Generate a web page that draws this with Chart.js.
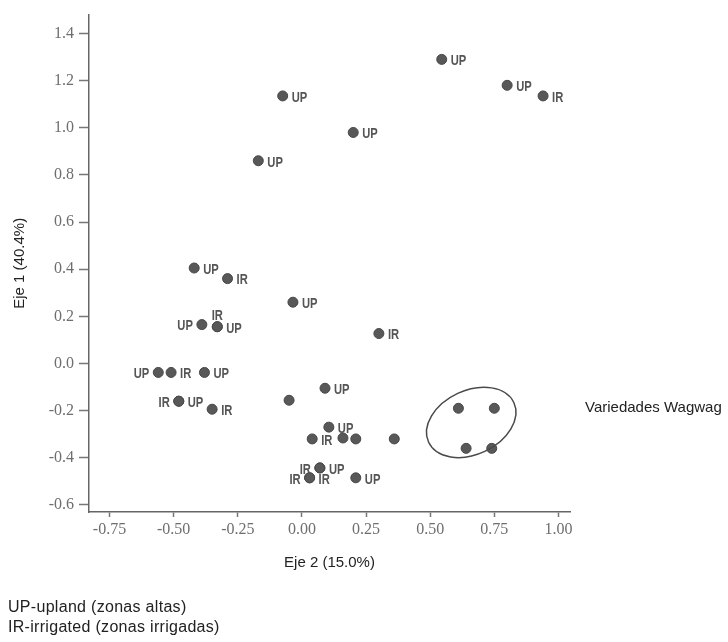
<!DOCTYPE html>
<html>
<head>
<meta charset="utf-8">
<script src="https://cdn.jsdelivr.net/npm/chart.js@4.4.0/dist/chart.umd.min.js"></script>
<style>
html, body { margin: 0; padding: 0; background: #fff; }
#wrap { width: 728px; height: 642px; }
</style>
</head>
<body>
<div id="wrap"><canvas id="pca-chart" width="728" height="642"></canvas></div>
<script>
// variedades: Eje 2 (x) y Eje 1 (y)
const eje2 = [0.545, 0.80, 0.94, -0.075, 0.20, -0.17,
              -0.42, -0.29, -0.035, -0.39, -0.33, -0.33, 0.30,
              -0.56, -0.51, -0.38, -0.48, -0.48, -0.35, -0.05, 0.09,
              0.105, 0.04, 0.16, 0.21, 0.36,
              0.07, 0.07, 0.03, 0.03, 0.21];
const eje1 = [1.29, 1.18, 1.135, 1.135, 0.98, 0.86,
              0.405, 0.36, 0.26, 0.165, 0.156, 0.156, 0.127,
              -0.038, -0.038, -0.038, -0.16, -0.16, -0.194, -0.156, -0.105,
              -0.27, -0.32, -0.316, -0.32, -0.32,
              -0.443, -0.443, -0.485, -0.485, -0.485];
const etiquetas = ['UP', 'UP', 'IR', 'UP', 'UP', 'UP',
                   'UP', 'IR', 'UP', 'UP', 'IR', 'UP', 'IR',
                   'UP', 'IR', 'UP', 'IR', 'UP', 'IR', '', 'UP',
                   'UP', 'IR', '', '', '',
                   'IR', 'UP', 'IR', 'IR', 'UP'];

// variedades Wagwag (dentro de la elipse)
const wagwagEje2 = [0.61, 0.75, 0.64, 0.74];
const wagwagEje1 = [-0.19, -0.19, -0.36, -0.36];

const xTickLabels = ['-0.75', '-0.50', '-0.25', '0.00', '0.25', '0.50', '0.75', '1.00'];
const yTickLabels = ['-0.6', '-0.4', '-0.2', '0.0', '0.2', '0.4', '0.6', '0.8', '1.0', '1.2', '1.4'];

// lado de la etiqueta: r = derecha, l = izquierda, t = arriba
const ladoEtiqueta = ['r', 'r', 'r', 'r', 'r', 'r',
                      'r', 'r', 'r', 'l', 't', 'r', 'r',
                      'l', 'r', 'r', 'l', 'r', 'r', 'r', 'r',
                      'r', 'r', 'r', 'r', 'r',
                      'l', 'r', 'l', 'r', 'r'];

const gris = '#6e6e6e';
const puntoColor = '#585858';
const labelFont = "bold 14px 'Liberation Sans', Arial, sans-serif";
const estrecho = 0.8; // etiquetas condensadas

const etiquetasPlugin = {
    id: 'etiquetas',
    afterDatasetsDraw(chart) {
        const ctx = chart.ctx;
        const meta = chart.getDatasetMeta(0);
        ctx.save();
        ctx.font = labelFont;
        ctx.fillStyle = '#555';
        ctx.textBaseline = 'middle';
        meta.data.forEach((pt, i) => {
            const txt = etiquetas[i];
            if (!txt) return;
            const lado = ladoEtiqueta[i];
            let x = pt.x + 9, y = pt.y + 2, align = 'left';
            if (lado === 'l') {
                x = pt.x - 9; align = 'right';
            } else if (lado === 't') {
                x = pt.x; y = pt.y - 11; align = 'center';
            }
            ctx.save();
            ctx.translate(x, y);
            ctx.scale(estrecho, 1);
            ctx.textAlign = align;
            ctx.fillText(txt, 0, 0);
            ctx.restore();
        });
        ctx.restore();
    }
};

const elipsePlugin = {
    id: 'elipse',
    afterDatasetsDraw(chart) {
        const ctx = chart.ctx;
        const xs = chart.scales.x, ys = chart.scales.y;
        const cx = xs.getPixelForValue(0.66);
        const cy = ys.getPixelForValue(-0.25);
        ctx.save();
        ctx.strokeStyle = '#4a4a4a';
        ctx.lineWidth = 1.5;
        ctx.beginPath();
        ctx.ellipse(cx, cy, 47, 32, -25 * Math.PI / 180, 0, Math.PI * 2);
        ctx.stroke();

        ctx.font = "15px 'Liberation Sans', Arial, sans-serif";
        ctx.fillStyle = '#222';
        ctx.textAlign = 'left';
        ctx.textBaseline = 'middle';
        ctx.fillText('Variedades Wagwag', chart.chartArea.right + 15, ys.getPixelForValue(-0.19));

        // nota al pie
        ctx.font = "16px 'Liberation Sans', Arial, sans-serif";
        if ('letterSpacing' in ctx) ctx.letterSpacing = '0.3px';
        ctx.fillText('UP-upland (zonas altas)', 8, 608);
        ctx.fillText('IR-irrigated (zonas irrigadas)', 8, 628);
        ctx.restore();
    }
};

const ctx = document.getElementById('pca-chart').getContext('2d');
new Chart(ctx, {
    type: 'scatter',
    data: {
        datasets: [{
            data: eje2.map((x, i) => ({ x: x, y: eje1[i] })),
            backgroundColor: puntoColor,
            borderColor: '#474747',
            borderWidth: 1,
            pointRadius: 5,
            pointHoverRadius: 5
        }, {
            data: wagwagEje2.map((x, i) => ({ x: x, y: wagwagEje1[i] })),
            backgroundColor: puntoColor,
            borderColor: '#474747',
            borderWidth: 1,
            pointRadius: 5,
            pointHoverRadius: 5
        }]
    },
    options: {
        responsive: false,
        animation: false,
        layout: { padding: { left: 0, right: 158, top: 12, bottom: 65 } },
        plugins: {
            legend: { display: false },
            tooltip: { enabled: false }
        },
        scales: {
            x: {
                type: 'linear',
                min: -0.83,
                max: 1.045,
                afterFit(scale) { scale.height = 65; },
                afterBuildTicks(scale) {
                    scale.ticks = xTickLabels.map(t => ({ value: parseFloat(t) }));
                },
                ticks: {
                    callback: (v) => v.toFixed(2),
                    color: gris,
                    font: { family: "'Liberation Serif', 'Times New Roman', serif", size: 16 },
                    padding: 3,
                    maxRotation: 0,
                    autoSkip: false
                },
                grid: { drawOnChartArea: false, drawTicks: true, tickLength: 5, color: '#777', tickWidth: 1.5 },
                border: { color: '#666', width: 1.5 },
                title: {
                    display: true,
                    text: 'Eje 2 (15.0%)',
                    color: '#222',
                    font: { family: "'Liberation Sans', Arial, sans-serif", size: 15 },
                    padding: { top: 0, bottom: 5 }
                }
            },
            y: {
                type: 'linear',
                min: -0.63,
                max: 1.48,
                afterFit(scale) { scale.width = 89; },
                afterBuildTicks(scale) {
                    scale.ticks = yTickLabels.map(t => ({ value: parseFloat(t) }));
                },
                ticks: {
                    callback: (v) => v.toFixed(1),
                    color: gris,
                    font: { family: "'Liberation Serif', 'Times New Roman', serif", size: 16 },
                    padding: 5,
                    autoSkip: false
                },
                grid: { drawOnChartArea: false, drawTicks: true, tickLength: 10, color: '#777', tickWidth: 1.5 },
                border: { color: '#666', width: 1.5 },
                title: {
                    display: true,
                    text: 'Eje 1 (40.4%)',
                    color: '#222',
                    font: { family: "'Liberation Sans', Arial, sans-serif", size: 15 },
                    padding: { top: 11, bottom: 0 }
                }
            }
        }
    },
    plugins: [etiquetasPlugin, elipsePlugin]
});
</script>
</body>
</html>
